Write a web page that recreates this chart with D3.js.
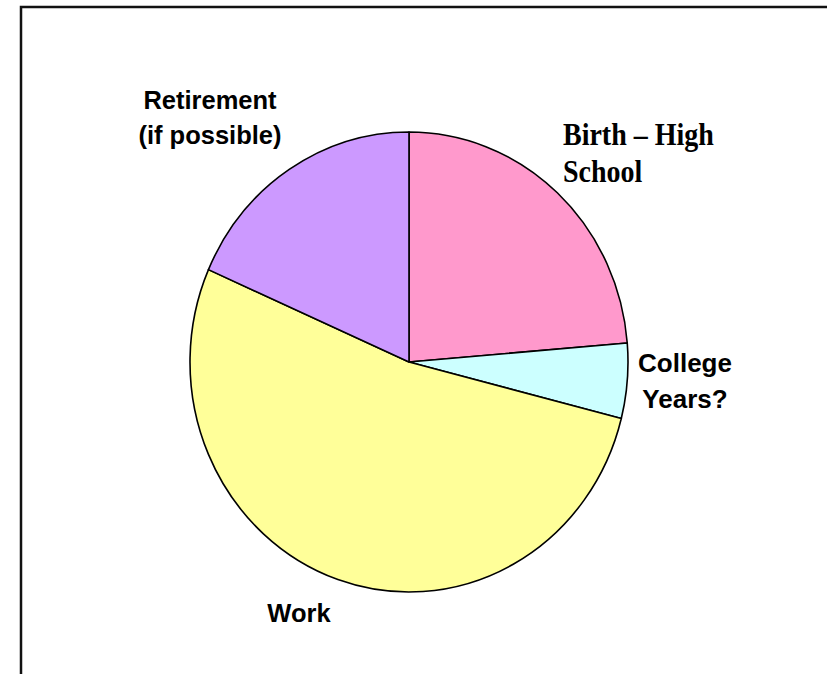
<!DOCTYPE html>
<html>
<head>
<meta charset="utf-8">
<script src="https://cdn.jsdelivr.net/npm/d3@7"></script>
<style>
  body { margin:0; background:#fff; }
  svg { display:block; }
</style>
</head>
<body>
<div id="chart"></div>
<script>
// years spent in each stage of life
var stages = ["Birth \u2013 High School", "College Years?", "Work", "Retirement (if possible)"];
var years = [18, 4, 40, 14];
var labelLines = [["Birth \u2013 High", "School"], ["College", "Years?"], ["Work"], ["Retirement", "(if possible)"]];
var colors = ["#FF99CC", "#CCFFFF", "#FFFF99", "#CC99FF"];

var w = 827, h = 674;
var cx = 409, cy = 362, ry = 230, rx = 219;

var svg = d3.select("#chart").append("svg")
	.attr("width", w)
	.attr("height", h);

// slide frame (only top & left edges are visible)
svg.append("path")
	.attr("d", "M21," + (h + 5) + "L21,7L" + (w + 5) + ",7")
	.attr("fill", "none")
	.attr("stroke", "#111")
	.attr("stroke-width", 2.5);

var pie = d3.pie().value(function(d){ return d; }).sort(null);
var arc = d3.arc().innerRadius(0).outerRadius(ry);

var g = svg.append("g")
	.attr("transform", "translate(" + cx + "," + cy + ") scale(" + (rx / ry) + ",1)");

g.selectAll("path")
	.data(pie(years))
	.enter().append("path")
	.attr("d", arc)
	.attr("fill", function(d, i){ return colors[i]; })
	.attr("stroke", "#000")
	.attr("stroke-width", 1.6)
	.attr("stroke-linejoin", "round")
	.attr("vector-effect", "non-scaling-stroke");

// label placement (layout only)
var labelPos = [
	{x: 563, y: 145, anchor: "start", font: "'Liberation Serif','Times New Roman',serif", size: 28, sy: 1.1, sx: 1, lh: 37},
	{x: 685, y: 372, anchor: "middle", font: "'Liberation Sans',Arial,sans-serif", size: 25.5, sy: 1, sx: 1.02, lh: 36},
	{x: 299, y: 622, anchor: "middle", font: "'Liberation Sans',Arial,sans-serif", size: 25.5, sy: 1, sx: 1.0, lh: 36},
	{x: 210, y: 109, anchor: "middle", font: "'Liberation Sans',Arial,sans-serif", size: 25.5, sy: 1, sx: 1.0, lh: 35}
];

labelLines.forEach(function(lines, i){
	var p = labelPos[i];
	var t = svg.append("g")
		.attr("transform", "translate(" + p.x + "," + p.y + ") scale(" + p.sx + "," + p.sy + ")");
	t.selectAll("text")
		.data(lines)
		.enter().append("text")
		.attr("x", 0)
		.attr("y", function(d, k){ return k * p.lh / p.sy; })
		.attr("text-anchor", p.anchor)
		.attr("font-family", p.font)
		.attr("font-size", p.size + "px")
		.attr("font-weight", "bold")
		.attr("fill", "#000")
		.text(function(d){ return d; });
});
</script>
</body>
</html>
